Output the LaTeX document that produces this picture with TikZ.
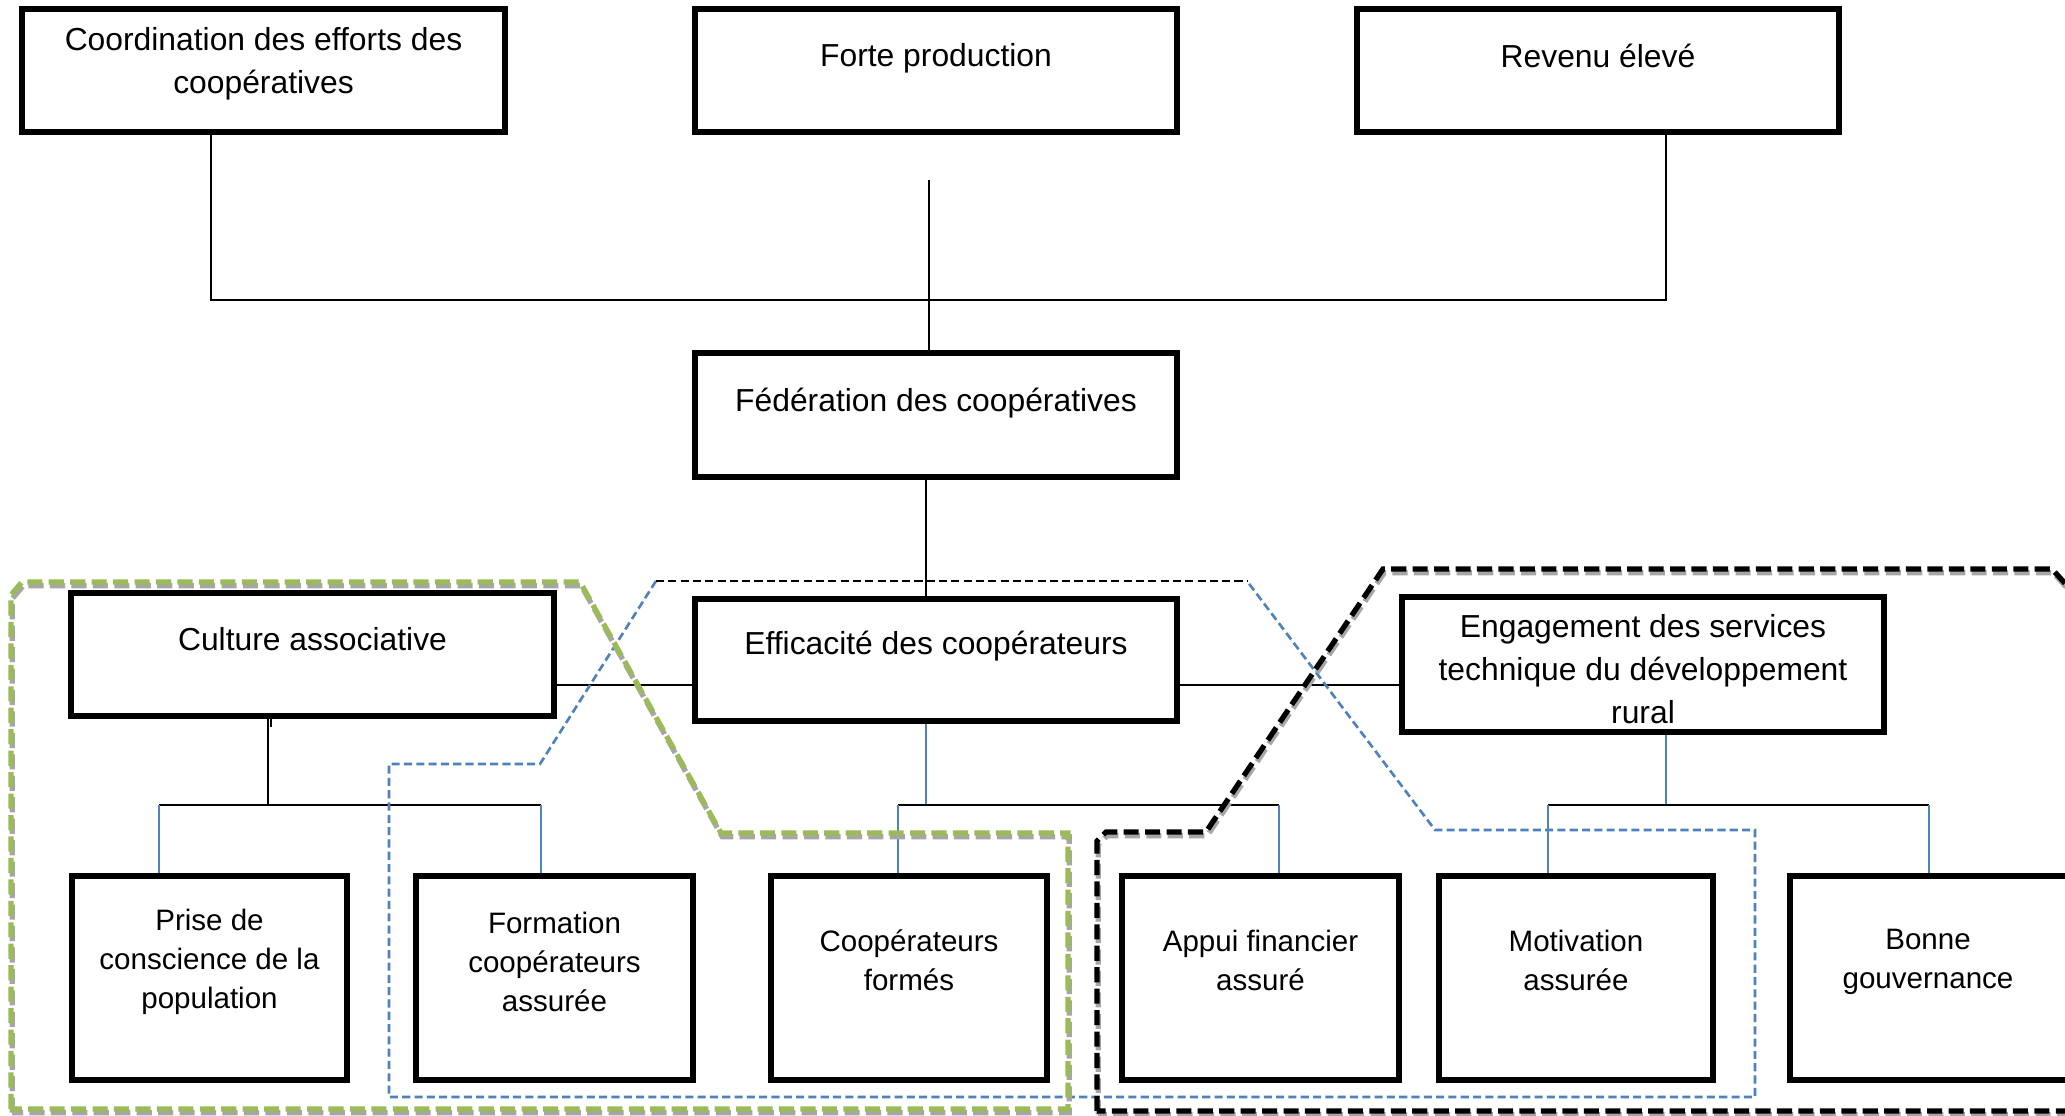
\documentclass[tikz,border=0pt]{standalone}
\usepackage{fontspec}
\setmainfont{Liberation Sans}
\usetikzlibrary{fit}
\definecolor{grpgreen}{HTML}{9BBB59}
\definecolor{grpblue}{HTML}{4F81BD}
\definecolor{shade}{HTML}{A6A6A6}
\begin{document}
\begin{tikzpicture}[x=0.01cm,y=-0.01cm,
  box/.style={draw=black, line width=1.5pt, inner sep=0pt, rectangle},
  txt/.style={align=center, inner sep=0pt, font=\fontsize{9.05}{12.2}\selectfont},
  txts/.style={align=center, inner sep=0pt, font=\fontsize{8.4}{11.1}\selectfont},
  link/.style={draw=black, line width=0.45pt},
  blink/.style={draw=grpblue, line width=0.5pt},
  thickdash/.style={line width=1.5pt, dash pattern=on 4.3pt off 1.8pt,
    preaction={draw=shade, line width=1.5pt, dash pattern=on 4.3pt off 1.8pt,
      transform canvas={xshift=0.35pt, yshift=-1.05pt}}},
  thindash/.style={line width=0.75pt, dash pattern=on 2.3pt off 1.2pt}]
\useasboundingbox (0,0) rectangle (2065,1116);
\clip (0,0) rectangle (2065,1116);
\fill[white] (0,0) rectangle (2065,1116);

% top level
\node[box, fit={(22,9) (505,132)}] (coord) {};
\node[box, fit={(695,9) (1177,132)}] (forte) {};
\node[box, fit={(1357,9) (1839,132)}] (revenu) {};
\node[txt] (tcoord) at (263.5,64) {Coordination des efforts des\\coopératives};
\node[txt] (tforte) at (936,58) {Forte production};
\node[txt] (trevenu) at (1598,56) {Revenu élevé};

% federation
\node[box, fit={(695,353) (1177,477)}] (fed) {};
\node[txt] (tfed) at (936,403) {Fédération des coopératives};

% middle level
\node[box, fit={(71,593) (554,716)}] (culture) {};
\node[box, fit={(695,599) (1177,721)}] (effic) {};
\node[box, fit={(1402,597) (1884,732)}] (engage) {};
\node[txt] (tculture) at (312.5,639) {Culture associative};
\node[txt] (teffic) at (936,646) {Efficacité des coopérateurs};
\node[txt] (tengage) at (1643,669) {Engagement des services\\technique du développement\\rural};

% bottom level
\node[box, fit={(72,876) (347,1080)}] (prise) {};
\node[box, fit={(416,876) (693,1080)}] (formation) {};
\node[box, fit={(771,876) (1047,1080)}] (coopf) {};
\node[box, fit={(1122,876) (1399,1080)}] (appui) {};
\node[box, fit={(1439,876) (1713,1080)}] (motiv) {};
\node[box, fit={(1790,876) (2072,1080)}] (bonne) {};
\node[txts] (tprise) at (209.5,962) {Prise de\\conscience de la\\population};
\node[txts] (tformation) at (554.5,962) {Formation\\coopérateurs\\assurée};
\node[txts] (tcoopf) at (909,960) {Coopérateurs\\formés};
\node[txts] (tappui) at (1260.5,960) {Appui financier\\assuré};
\node[txts] (tmotiv) at (1576,960.5) {Motivation\\assurée};
\node[txts] (tbonne) at (1928,961.5) {Bonne\\gouvernance};

% upper connectors
\coordinate (j1) at (211,300);
\coordinate (j2) at (1666,300);
\coordinate (fp) at (929,180);
\coordinate (fedx) at (926,0);
\draw[link] (coord.south -| j1) -- (j1) -- (j2) -- (revenu.south -| j2);
\draw[link] (fp) -- (fp |- fed.north);
\draw[link] (fedx |- fed.south) -- (fedx |- effic.north);

% middle row links
\coordinate (hl) at (0,685);
\draw[link] (culture.east |- hl) -- (effic.west |- hl);
\draw[link] (effic.east |- hl) -- (engage.west |- hl);

% Culture associative branch
\coordinate (ca) at (268,805);
\coordinate (cl) at (159,805);
\coordinate (cr) at (541,805);
\coordinate (tick) at (271,727);
\draw[link] (ca |- culture.south) -- (ca);
\draw[link] (tick |- culture.south) -- (tick);
\draw[link] (cl) -- (cr);
\draw[blink] (cl) -- (cl |- prise.north);
\draw[blink] (cr) -- (cr |- formation.north);

% Efficacite branch
\coordinate (ea) at (926,805);
\coordinate (el) at (898,805);
\coordinate (er) at (1279,805);
\draw[blink] (ea |- effic.south) -- (ea);
\draw[link] (el) -- (er);
\draw[blink] (el) -- (el |- coopf.north);
\draw[blink] (er) -- (er |- appui.north);

% Engagement branch
\coordinate (ga) at (1666,805);
\coordinate (gl) at (1548,805);
\coordinate (gr) at (1929,805);
\draw[blink] (ga |- engage.south) -- (ga);
\draw[link] (gl) -- (gr);
\draw[blink] (gl) -- (gl |- motiv.north);
\draw[blink] (gr) -- (gr |- bonne.north);

% group outlines
\draw[grpblue, thindash] (656,581) -- (540,764) -- (389,764) -- (389,1097)
  -- (1755,1097) -- (1755,830) -- (1435,830) -- (1247,581);
\draw[black, thindash] (656,581) -- (1247,581);
\draw[grpgreen, thickdash] (11,1109) -- (11,595) -- (22,582) -- (580,582)
  -- (721,833) -- (1068,833) -- (1068,1109) -- cycle;
\draw[black, thickdash] (1097,1111) -- (1097,841) -- (1106,832) -- (1206,832)
  -- (1383,569) -- (2052,569) -- (2080,600) -- (2080,1111) -- cycle;
\end{tikzpicture}
\end{document}
